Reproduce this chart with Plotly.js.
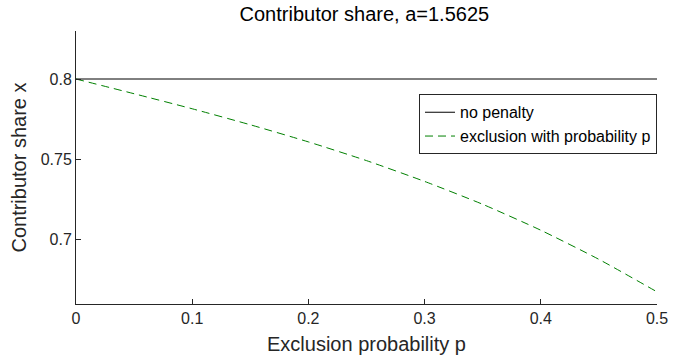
<!DOCTYPE html>
<html>
<head>
<meta charset="utf-8">
<script src="https://cdn.plot.ly/plotly-3.0.1.min.js"></script>
<style>html,body{margin:0;padding:0;background:#fff}#chart{width:694px;height:360px}</style>
</head>
<body>
<div id="chart"></div>
<script>
// Data
var exclusionProb = [0, 0.05, 0.1, 0.15, 0.2, 0.25, 0.3, 0.35, 0.4, 0.45, 0.5];
var noPenalty = [0.8, 0.8, 0.8, 0.8, 0.8, 0.8, 0.8, 0.8, 0.8, 0.8, 0.8];
var exclusionShare = [0.8, 0.7908, 0.7814, 0.7714, 0.7607, 0.749, 0.736, 0.7217, 0.7055, 0.6873, 0.667];
var xTicks = [0, 0.1, 0.2, 0.3, 0.4, 0.5];
var xTickLabels = ['0', '0.1', '0.2', '0.3', '0.4', '0.5'];
var yTicks = [0.7, 0.75, 0.8];
var yTickLabels = ['0.7', '0.75', '0.8'];

var FONT = 'Liberation Sans, Arial, Helvetica, sans-serif';
var AX = '#262626';

var traces = [
  {x: exclusionProb, y: noPenalty, type: 'scatter', mode: 'lines', name: 'no penalty',
   line: {color: '#000000', width: 1}},
  {x: exclusionProb, y: exclusionShare, type: 'scatter', mode: 'lines', name: 'exclusion with probability p',
   line: {color: '#008000', width: 1, dash: '8px,5px', shape: 'spline', smoothing: 0.6}}
];

var layout = {
  width: 694, height: 360,
  margin: {l: 76, r: 37, t: 31, b: 56},
  paper_bgcolor: '#fff', plot_bgcolor: '#fff',
  font: {family: FONT, color: AX, size: 16},
  title: {text: 'Contributor share, a=1.5625', font: {size: 20, color: '#000'}, x: 0.525, xanchor: 'center', y: 0.962, yanchor: 'middle'},
  showlegend: true,
  legend: {x: 1, xanchor: 'right', y: 0.768, yanchor: 'top', bgcolor: '#fff', bordercolor: AX, borderwidth: 1,
           font: {size: 16, color: '#000'}, itemwidth: 30, tracegroupgap: 0},
  xaxis: {range: [0, 0.5], tickvals: xTicks, ticktext: xTickLabels, ticks: 'inside', ticklen: 5, tickcolor: AX,
          showline: true, linecolor: AX, linewidth: 1, showgrid: false, zeroline: false, mirror: false,
          tickfont: {size: 16, color: AX},
          title: {text: 'Exclusion probability p', font: {size: 20, color: AX}, standoff: 10}},
  yaxis: {range: [0.6594, 0.83], tickvals: yTicks, ticktext: yTickLabels, ticks: 'inside', ticklen: 5, tickcolor: AX,
          showline: true, linecolor: AX, linewidth: 1, showgrid: false, zeroline: false, mirror: false,
          tickfont: {size: 16, color: AX},
          title: {text: 'Contributor share x', font: {size: 20, color: AX}, standoff: 8}}
};

Plotly.newPlot('chart', traces, layout, {displayModeBar: false, staticPlot: true});
</script>
</body>
</html>
